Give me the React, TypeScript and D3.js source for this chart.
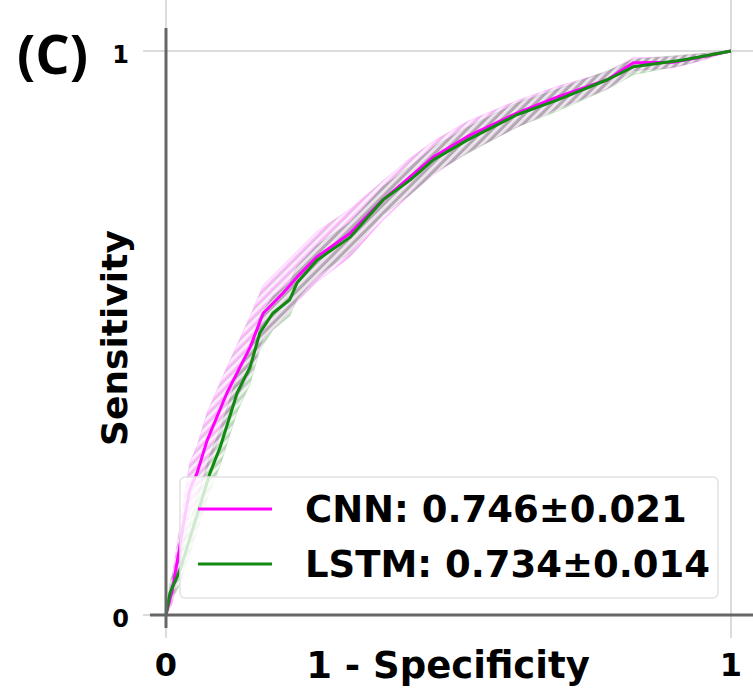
import React from 'react';
import * as d3 from 'd3';

// ROC curves (false positive rate vs true positive rate)
const cnnFpr = [0, 0.011, 0.025, 0.032, 0.042, 0.055, 0.073, 0.108, 0.149, 0.172, 0.207, 0.232, 0.267, 0.326, 0.384, 0.432, 0.473, 0.533, 0.621, 0.692, 0.781, 0.827, 0.897, 0.945, 1];
const cnnTpr = [0, 0.044, 0.124, 0.168, 0.222, 0.252, 0.31, 0.394, 0.475, 0.535, 0.571, 0.599, 0.635, 0.677, 0.736, 0.777, 0.812, 0.848, 0.89, 0.918, 0.949, 0.979, 0.98, 0.989, 1];
const cnnUpper = [0, 0.07, 0.16, 0.21, 0.27, 0.3, 0.36, 0.44, 0.53, 0.585, 0.62, 0.645, 0.68, 0.72, 0.77, 0.81, 0.84, 0.875, 0.912, 0.937, 0.963, 0.988, 0.99, 0.995, 1];
const cnnLower = [0, 0.02, 0.09, 0.13, 0.18, 0.21, 0.26, 0.35, 0.43, 0.49, 0.525, 0.555, 0.59, 0.635, 0.7, 0.745, 0.78, 0.82, 0.865, 0.897, 0.933, 0.965, 0.97, 0.982, 1];

const lstmFpr = [0, 0.007, 0.025, 0.078, 0.096, 0.126, 0.149, 0.166, 0.189, 0.219, 0.232, 0.267, 0.326, 0.384, 0.432, 0.473, 0.533, 0.621, 0.692, 0.781, 0.827, 0.915, 1];
const lstmTpr = [0, 0.039, 0.08, 0.252, 0.298, 0.394, 0.44, 0.5, 0.535, 0.559, 0.589, 0.629, 0.67, 0.736, 0.771, 0.807, 0.842, 0.887, 0.913, 0.949, 0.972, 0.984, 1];
const lstmUpper = [0, 0.06, 0.11, 0.285, 0.33, 0.425, 0.47, 0.53, 0.565, 0.59, 0.618, 0.655, 0.697, 0.76, 0.795, 0.83, 0.865, 0.908, 0.932, 0.965, 0.985, 0.993, 1];
const lstmLower = [0, 0.02, 0.055, 0.22, 0.265, 0.36, 0.41, 0.47, 0.505, 0.53, 0.56, 0.6, 0.643, 0.71, 0.745, 0.783, 0.818, 0.865, 0.893, 0.932, 0.958, 0.975, 1];

const legendLabels = ['CNN: 0.746\u00b10.021', 'LSTM: 0.734\u00b10.014'];
const tickValues = [0, 1];

const W = 753, H = 688;
const font = 'DejaVu Sans, sans-serif';

export default function App() {
  const x = d3.scaleLinear().domain([0, 1]).range([166, 731]);
  const y = d3.scaleLinear().domain([0, 1]).range([615, 51]);

  const series = [
    { name: 'cnn', color: '#ff00ff', fpr: cnnFpr, tpr: cnnTpr, lo: cnnLower, hi: cnnUpper },
    { name: 'lstm', color: '#118a11', fpr: lstmFpr, tpr: lstmTpr, lo: lstmLower, hi: lstmUpper },
  ];

  const line = d3.line<[number, number]>().x(d => x(d[0])).y(d => y(d[1]));
  const area = d3.area<[number, number, number]>()
    .x(d => x(d[0])).y0(d => y(d[1])).y1(d => y(d[2]));

  return (
    <svg width={W} height={H} style={{ position: 'absolute', left: 0, top: 0, background: '#fff' }}>
      <defs>
        {series.map(s => (
          <pattern key={s.name} id={'hatch-' + s.name} width={6} height={6}
            patternUnits="userSpaceOnUse" patternTransform="rotate(45)">
            <rect width={6} height={6} fill={s.color} fillOpacity={0.08} />
            <line x1={1} y1={0} x2={1} y2={6} stroke={s.color} strokeOpacity={0.3} strokeWidth={1.5} />
            <line x1={2.5} y1={0} x2={2.5} y2={6} stroke="#555" strokeOpacity={0.25} strokeWidth={1} />
          </pattern>
        ))}
      </defs>

      {/* grid / ticks */}
      {tickValues.map(t => (
        <line key={'gy' + t} x1={143} x2={W} y1={y(t)} y2={y(t)} stroke="#dcdcdc" strokeWidth={2} />
      ))}
      {tickValues.map(t => (
        <line key={'gx' + t} x1={x(t)} x2={x(t)} y1={0} y2={638} stroke="#dcdcdc" strokeWidth={2} />
      ))}

      {/* confidence bands */}
      {series.map(s => (
        <path key={'band' + s.name}
          d={area(s.fpr.map((f, i) => [f, s.lo[i], s.hi[i]] as [number, number, number])) || ''}
          fill={`url(#hatch-${s.name})`} stroke={s.color} strokeOpacity={0.15} strokeWidth={1} />
      ))}

      {/* curves */}
      {series.map(s => (
        <path key={'line' + s.name}
          d={line(s.fpr.map((f, i) => [f, s.tpr[i]] as [number, number])) || ''}
          fill="none" stroke={s.color} strokeWidth={3} strokeLinejoin="round" />
      ))}

      {/* spines */}
      <line x1={166} x2={166} y1={28} y2={628} stroke="#666" strokeWidth={3} />
      <line x1={150} x2={W} y1={615} y2={615} stroke="#666" strokeWidth={3} />

      {/* tick labels */}
      {tickValues.map(t => (
        <text key={'ty' + t} x={129} y={y(t) + 12} textAnchor="end" fontFamily={font}
          fontWeight="bold" fontSize={24}>{t}</text>
      ))}
      {tickValues.map(t => (
        <text key={'tx' + t} x={x(t)} y={676} textAnchor="middle" fontFamily={font}
          fontWeight="bold" fontSize={32}>{t}</text>
      ))}

      {/* axis labels */}
      <text x={448} y={678} textAnchor="middle" fontFamily={font} fontWeight="bold" fontSize={37}>
        1 - Specificity
      </text>
      <text transform="translate(127,338) rotate(-90)" textAnchor="middle" fontFamily={font}
        fontWeight="bold" fontSize={36}>Sensitivity</text>

      {/* legend */}
      <rect x={180} y={477} width={538} height={121} rx={5} fill="#fff" fillOpacity={0.8}
        stroke="#e2e2e2" strokeWidth={1.5} />
      {series.map((s, i) => (
        <g key={'leg' + s.name}>
          <line x1={198} x2={272} y1={509 + i * 55} y2={509 + i * 55} stroke={s.color} strokeWidth={3} />
          <text x={305} y={522 + i * 55} fontFamily={font} fontWeight="bold" fontSize={37}>
            {legendLabels[i]}
          </text>
        </g>
      ))}

      {/* panel letter */}
      <text x={17} y={74} fontFamily="Open Sans, sans-serif" fontWeight="bold" fontSize={54}>(C)</text>
    </svg>
  );
}
